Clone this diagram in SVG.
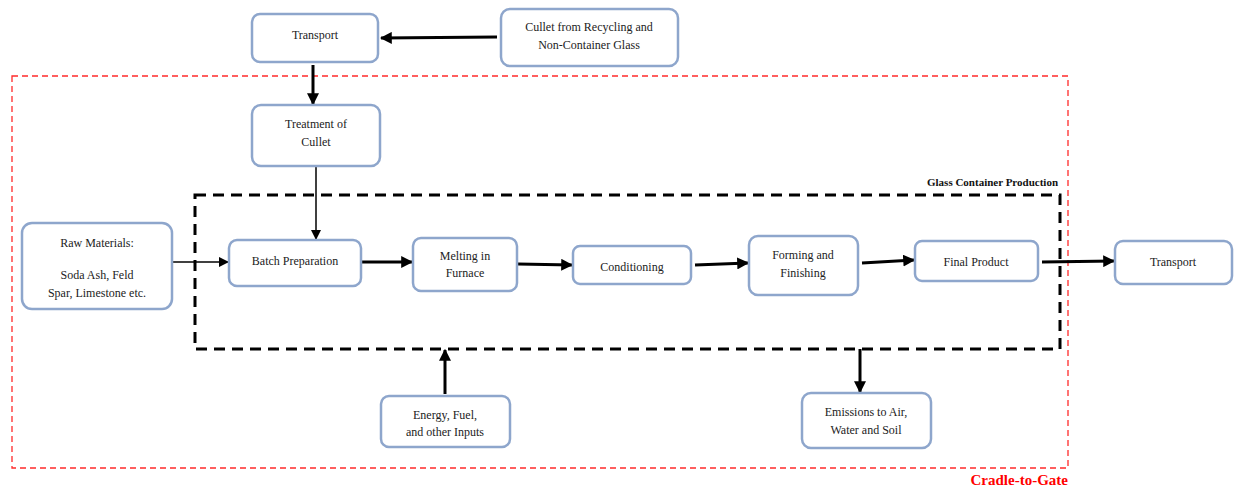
<svg xmlns="http://www.w3.org/2000/svg" width="1238" height="486" viewBox="0 0 1238 486">
  <style>
    .node rect { fill: #ffffff; stroke: #8ea6cc; stroke-width: 2.5; }
    .node text { font-size: 12px; fill: #222; text-anchor: middle; }
    .thick { stroke: #000; stroke-width: 3; fill: none; marker-end: url(#head); }
    .thin { stroke: #000; stroke-width: 1.5; fill: none; marker-end: url(#headSmall); }
  </style>
  <defs>
    <marker id="head" viewBox="0 0 10 10" refX="9" refY="5" markerWidth="4" markerHeight="4" orient="auto" markerUnits="strokeWidth">
      <path d="M0,0 L10,5 L0,10 Z" fill="#000"/>
    </marker>
    <marker id="headSmall" viewBox="0 0 10 10" refX="9" refY="5" markerWidth="7" markerHeight="7" orient="auto" markerUnits="strokeWidth">
      <path d="M0,0 L10,5 L0,10 Z" fill="#000"/>
    </marker>
  </defs>
  <rect width="1238" height="486" fill="#ffffff"/>

  <g font-family="Liberation Serif, Times New Roman, serif">
  <!-- system boundaries -->
  <g id="boundaries">
    <rect x="12" y="76" width="1056" height="392" fill="none" stroke="#ff2a2a" stroke-width="1.3" stroke-dasharray="6,4"/>
    <text x="1068" y="485" font-size="15" font-weight="bold" fill="#ff0000" text-anchor="end">Cradle-to-Gate</text>
    <rect x="195" y="195" width="865" height="154" fill="none" stroke="#000" stroke-width="3" stroke-dasharray="11,7"/>
    <text x="1058" y="186" font-size="11" font-weight="bold" fill="#111" text-anchor="end">Glass Container Production</text>
  </g>

  <!-- connectors -->
  <g id="connectors">
    <line class="thick" x1="497" y1="37" x2="381" y2="38"/>
    <line class="thick" x1="313" y1="65" x2="313" y2="104"/>
    <line class="thin" x1="316" y1="167" x2="316" y2="239"/>
    <line class="thin" x1="173" y1="262" x2="228" y2="262"/>
    <line class="thick" x1="362" y1="262" x2="412" y2="262"/>
    <line class="thick" x1="518" y1="264" x2="572" y2="265"/>
    <line class="thick" x1="695" y1="265" x2="748" y2="263"/>
    <line class="thick" x1="862" y1="263" x2="914" y2="260"/>
    <line class="thick" x1="1042" y1="262" x2="1114" y2="261"/>
    <line class="thick" x1="445" y1="394" x2="445" y2="350"/>
    <line class="thick" x1="860" y1="349" x2="860" y2="392"/>
  </g>

  <g id="transport-top" class="node">
    <rect x="252" y="14" width="126" height="48" rx="8"/>
    <text x="315" y="39">Transport</text>
  </g>
  <g id="cullet-source" class="node">
    <rect x="501" y="9" width="177" height="57" rx="9"/>
    <text x="589" y="31">Cullet from Recycling and</text>
    <text x="589" y="49">Non-Container Glass</text>
  </g>
  <g id="treatment" class="node">
    <rect x="252" y="105" width="128" height="61" rx="9"/>
    <text x="316" y="128">Treatment of</text>
    <text x="316" y="146">Cullet</text>
  </g>
  <g id="raw-materials" class="node">
    <rect x="22" y="223" width="150" height="86" rx="10"/>
    <text x="97" y="247">Raw Materials:</text>
    <text x="97" y="279">Soda Ash, Feld</text>
    <text x="97" y="297">Spar, Limestone etc.</text>
  </g>
  <g id="batch" class="node">
    <rect x="229" y="240" width="132" height="46" rx="8"/>
    <text x="295" y="265">Batch Preparation</text>
  </g>
  <g id="melting" class="node">
    <rect x="413" y="238" width="104" height="53" rx="8"/>
    <text x="465" y="260">Melting in</text>
    <text x="465" y="277">Furnace</text>
  </g>
  <g id="conditioning" class="node">
    <rect x="573" y="246" width="118" height="38" rx="7"/>
    <text x="632" y="271">Conditioning</text>
  </g>
  <g id="forming" class="node">
    <rect x="749" y="236" width="109" height="59" rx="9"/>
    <text x="803" y="259">Forming and</text>
    <text x="803" y="277">Finishing</text>
  </g>
  <g id="final-product" class="node">
    <rect x="915" y="241" width="123" height="40" rx="7"/>
    <text x="976" y="266">Final Product</text>
  </g>
  <g id="transport-out" class="node">
    <rect x="1115" y="241" width="117" height="43" rx="8"/>
    <text x="1173" y="266">Transport</text>
  </g>
  <g id="energy" class="node">
    <rect x="381" y="396" width="129" height="51" rx="8"/>
    <text x="445" y="419">Energy, Fuel,</text>
    <text x="445" y="436">and other Inputs</text>
  </g>
  <g id="emissions" class="node">
    <rect x="802" y="393" width="129" height="55" rx="9"/>
    <text x="866" y="416">Emissions to Air,</text>
    <text x="866" y="434">Water and Soil</text>
  </g>
  </g>
</svg>
